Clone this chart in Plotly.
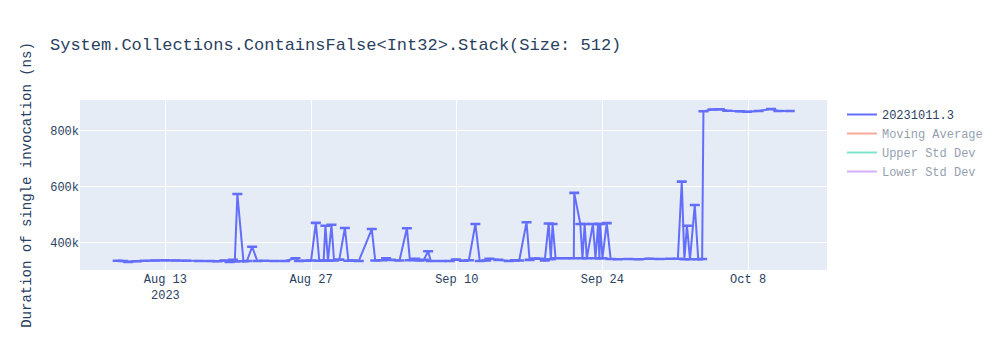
import plotly.graph_objects as go

title_text = "System.Collections.ContainsFalse<Int32>.Stack(Size: 512)"
series_name = "20231011.3"
y_title = "Duration of single invocation (ns)"

dates = [
    "2023-08-08 10:00", "2023-08-08 22:00", "2023-08-09 10:00", "2023-08-10 06:00",
    "2023-08-11 00:00", "2023-08-12 00:00", "2023-08-13 00:00", "2023-08-14 00:00",
    "2023-08-15 00:00", "2023-08-16 06:00", "2023-08-17 06:00", "2023-08-18 00:00",
    "2023-08-18 16:00", "2023-08-19 04:00", "2023-08-19 12:00", "2023-08-19 16:00",
    "2023-08-19 22:00", "2023-08-20 12:00", "2023-08-20 20:00", "2023-08-21 08:00",
    "2023-08-21 20:00", "2023-08-22 12:00", "2023-08-23 12:00", "2023-08-24 12:00",
    "2023-08-25 12:00", "2023-08-25 20:00", "2023-08-26 12:00", "2023-08-27 00:00",
    "2023-08-27 11:00", "2023-08-27 19:00", "2023-08-28 05:00", "2023-08-28 09:00",
    "2023-08-28 15:00", "2023-08-28 23:00", "2023-08-29 05:00", "2023-08-29 17:00",
    "2023-08-30 06:00", "2023-08-30 14:00", "2023-08-31 00:00", "2023-08-31 14:00",
    "2023-09-01 20:00", "2023-09-02 04:00", "2023-09-02 20:00", "2023-09-03 05:00",
    "2023-09-03 16:00", "2023-09-04 12:00", "2023-09-05 05:00", "2023-09-05 12:00",
    "2023-09-06 00:00", "2023-09-06 10:00", "2023-09-06 20:00", "2023-09-07 06:00",
    "2023-09-07 12:00", "2023-09-08 12:00", "2023-09-09 08:00", "2023-09-09 22:00",
    "2023-09-10 16:00", "2023-09-11 04:00", "2023-09-11 19:00", "2023-09-12 05:00",
    "2023-09-12 20:00", "2023-09-13 03:00", "2023-09-14 00:00", "2023-09-15 00:00",
    "2023-09-15 14:00", "2023-09-16 00:00", "2023-09-16 17:00", "2023-09-17 00:00",
    "2023-09-17 12:00", "2023-09-17 22:00", "2023-09-18 11:00", "2023-09-18 20:00",
    "2023-09-19 01:00", "2023-09-19 05:00", "2023-09-19 12:00", "2023-09-20 10:00",
    "2023-09-21 06:00", "2023-09-21 07:00", "2023-09-21 21:00", "2023-09-22 02:00",
    "2023-09-22 07:00", "2023-09-22 12:00", "2023-09-23 02:00", "2023-09-23 08:00",
    "2023-09-23 14:00", "2023-09-23 17:00", "2023-09-23 19:00", "2023-09-24 00:00",
    "2023-09-24 10:00", "2023-09-24 19:00", "2023-09-25 12:00", "2023-09-26 12:00",
    "2023-09-27 12:00", "2023-09-28 12:00", "2023-09-29 12:00", "2023-09-30 12:00",
    "2023-10-01 06:00", "2023-10-01 15:00", "2023-10-01 21:00", "2023-10-02 03:00",
    "2023-10-02 10:00", "2023-10-02 21:00", "2023-10-03 05:00", "2023-10-03 14:00",
    "2023-10-03 17:00", "2023-10-04 14:00", "2023-10-05 07:00", "2023-10-06 00:00",
    "2023-10-07 05:00", "2023-10-07 22:00", "2023-10-09 00:00", "2023-10-10 05:00",
    "2023-10-10 22:00", "2023-10-12 00:00",
]

durations = [
    335000, 334000, 331000, 333000,
    335000, 336000, 337000, 336000,
    335000, 334000, 334000, 333000,
    336000, 331000, 338000, 332000,
    573000, 333000, 334000, 385000,
    334000, 335000, 334000, 334000,
    344000, 334000, 335000, 336000,
    470000, 335000, 336000, 460000,
    335000, 463000, 336000, 339000,
    452000, 335000, 336000, 334000,
    448000, 336000, 337000, 344000,
    338000, 336000, 451000, 337000,
    342000, 336000, 338000, 369000,
    334000, 334000, 334000, 339000,
    335000, 337000, 466000, 334000,
    336000, 342000, 338000, 334000,
    337000, 336000, 472000, 338000,
    343000, 342000, 336000, 468000,
    340000, 466000, 344000, 344000,
    344000, 577000, 466000, 344000,
    466000, 344000, 466000, 344000,
    466000, 344000, 466000, 344000,
    469000, 341000, 340000, 341000,
    340000, 342000, 341000, 342000,
    342000, 617000, 340000, 460000,
    340000, 534000, 340000, 341000,
    868000, 874000, 875000, 870000,
    868000, 866000, 869000, 876000,
    869000, 869000,
]

extra_names = ["Moving Average", "Upper Std Dev", "Lower Std Dev"]
extra_colors = ["#EF553B", "#00cc96", "#ab63fa"]

x_range = ["2023-08-04 19:00", "2023-10-15 14:00"]
y_range = [302000, 908000]

fig = go.Figure()
fig.add_trace(go.Scatter(
    x=dates, y=durations, mode="lines", name=series_name,
    line=dict(color="#636efa", width=2),
    error_y=dict(type="constant", value=1000, color="#636efa", thickness=2, width=5),
))
for name, color in zip(extra_names, extra_colors):
    # hidden (legend-only) companion series, as in the reference
    fig.add_trace(go.Scatter(
        x=dates, y=durations, mode="lines", name=name,
        line=dict(color=color), visible="legendonly",
    ))

fig.update_layout(
    template="plotly",
    width=1000, height=350,
    title=dict(text=title_text),
    font=dict(family="Courier New, monospace"),
    xaxis=dict(range=x_range, type="date"),
    yaxis=dict(range=y_range, title=dict(text=y_title)),
)

fig.write_html("out.html")
